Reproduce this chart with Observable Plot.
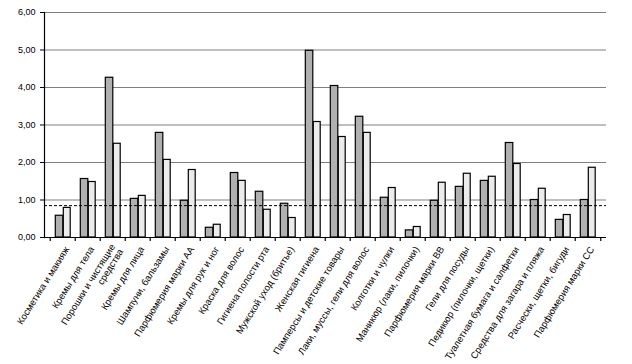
<!DOCTYPE html>
<html>
<head>
<meta charset="utf-8">
<script src="https://cdn.jsdelivr.net/npm/d3@7"></script>
<script src="https://cdn.jsdelivr.net/npm/@observablehq/plot@0.6"></script>
<style>
  html, body { margin: 0; padding: 0; background: #fff; }
  #chart svg { display: block; }
</style>
</head>
<body>
<div id="chart"></div>
<script>
const categories = [
  "Косметика и макияж",
  "Кремы для тела",
  "Порошки и чистящие\nсредства",
  "Кремы для лица",
  "Шампуни, бальзамы",
  "Парфюмерия марки АА",
  "Кремы для рук и ног",
  "Краска для волос",
  "Гигиена полости рта",
  "Мужской уход (бритье)",
  "Женская гигиена",
  "Памперсы и детские товары",
  "Лаки, муссы, гели для волос",
  "Колготки и чулки",
  "Маникюр (лаки, пилочки)",
  "Парфюмерия марки ВВ",
  "Гели для посуды",
  "Педикюр (пилочки, щетки)",
  "Туалетная бумага и салфетки",
  "Средства для загара и пляжа",
  "Расчески, щетки, бигуди",
  "Парфюмерия марки СС"
];
const seriesA = [0.58, 1.56, 4.26, 1.03, 2.79, 0.98, 0.26, 1.72, 1.22, 0.90, 4.98,
                 4.04, 3.22, 1.06, 0.19, 0.98, 1.35, 1.51, 2.52, 1.00, 0.47, 1.00];
const seriesB = [0.79, 1.48, 2.50, 1.11, 2.07, 1.80, 0.34, 1.51, 0.74, 0.52, 3.08,
                 2.68, 2.79, 1.32, 0.28, 1.46, 1.70, 1.62, 1.96, 1.30, 0.60, 1.86];
const refLine = [0.85];
const yTicks = [0, 1, 2, 3, 4, 5, 6];

const W = 632, H = 364, mL = 44, mR = 26, mT = 12, mB = 127;
const step = (W - mL - mR) / categories.length;

const dataA = categories.map((c, i) => ({category: c, value: seriesA[i]}));
const dataB = categories.map((c, i) => ({category: c, value: seriesB[i]}));
const fmt = d => d3.format(".2f")(d).replace(".", ",");

const chart = Plot.plot({
  width: W,
  height: H,
  marginLeft: mL,
  marginRight: mR,
  marginTop: mT,
  marginBottom: mB,
  style: {fontFamily: "'Liberation Sans', Arial, sans-serif", fontSize: "9px", color: "#000", background: "#fff"},
  x: {domain: categories, paddingInner: 0, paddingOuter: 0, axis: null},
  y: {domain: [0, 6], label: null, axis: null},
  marks: [
    Plot.gridY(yTicks, {stroke: "#808080", strokeOpacity: 1, strokeWidth: 1.2}),
    Plot.barY(dataA, {x: "category", y: "value", fill: "#b0b0b0", stroke: "#000", strokeWidth: 1.2, insetLeft: 5.3, insetRight: 12.2}),
    Plot.barY(dataB, {x: "category", y: "value", fill: "#ebebeb", stroke: "#000", strokeWidth: 1.2, insetLeft: 13.3, insetRight: 4.8}),
    Plot.ruleY(refLine, {stroke: "#000", strokeWidth: 1, strokeDasharray: "3,2"}),
    Plot.ruleY([0], {stroke: "#000", strokeWidth: 1.2}),
    Plot.frame({anchor: "left", stroke: "#000", strokeWidth: 1.2}),
    Plot.axisY(yTicks, {tickSize: 4, tickPadding: 5, tickFormat: fmt, label: null, fontSize: 9}),
    Plot.ruleX(categories, {x: d => d, y1: 0, y2: 0, insetBottom: -4, dx: -step / 2, stroke: "#000", strokeWidth: 1.2}),
    Plot.ruleX(categories.slice(-1), {x: d => d, y1: 0, y2: 0, insetBottom: -4, dx: step / 2, stroke: "#000", strokeWidth: 1.2}),
    Plot.text(categories, {x: d => d, text: d => d, frameAnchor: "bottom", rotate: -58, textAnchor: "end", lineAnchor: "middle", dx: 4, dy: 10, fontSize: 9.5, fill: "#000"})
  ]
});
document.getElementById("chart").appendChild(chart);
</script>
</body>
</html>
